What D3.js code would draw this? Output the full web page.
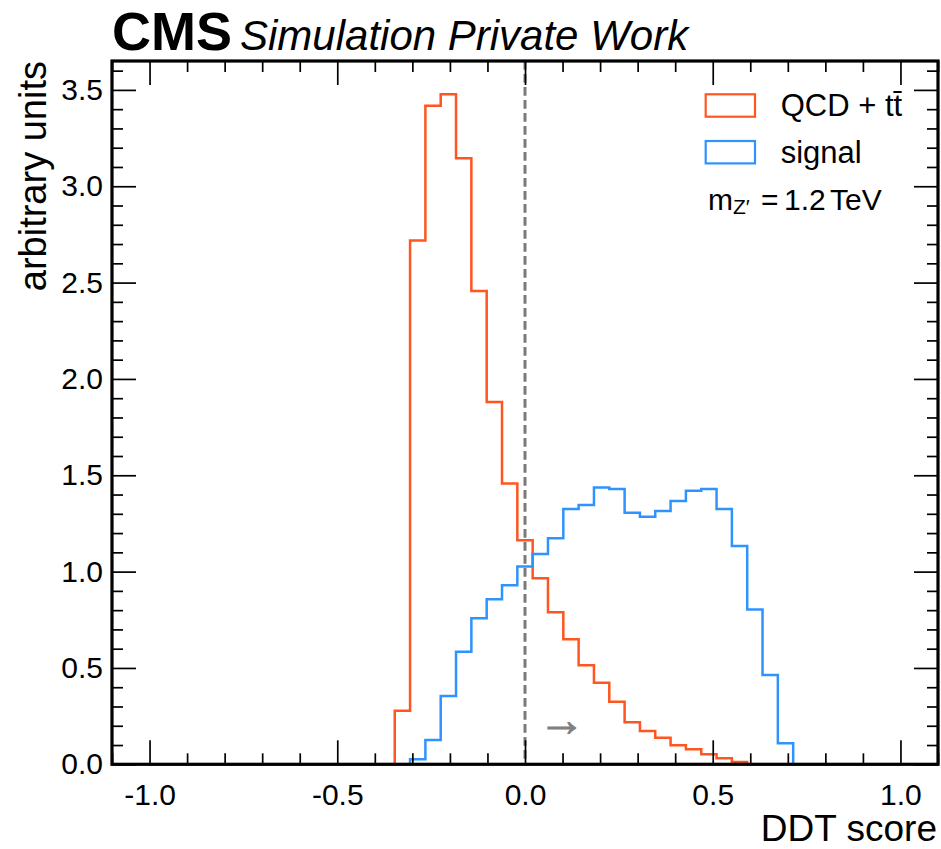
<html>
  <head>
    <meta charset="utf-8">
    <title>DDT score</title>
    <style>
      body { margin: 0; background: #fff; }
      svg text { font-family: "Liberation Sans", Arial, sans-serif; fill: #000; }
    </style>
  </head>
  <body>
    <div id="vis"></div>
    <script src="https://d3js.org/d3.v7.min.js"></script>
    <script>
      // binning: 49 equal bins between -1 and 1
      const binLo = -1, binHi = 1, nBins = 49

      // normalised histograms (arbitrary units), one value per bin
      const qcdValues = [
        0, 0, 0, 0, 0, 0, 0, 0, 0, 0, 0, 0, 0, 0, 0, 0,
        0.278, 2.719, 3.418, 3.478, 3.145, 2.456, 1.880, 1.457, 1.163, 0.965,
        0.789, 0.649, 0.514, 0.423, 0.325, 0.218, 0.173, 0.138, 0.099, 0.078,
        0.052, 0.031, 0.012,
        0, 0, 0, 0, 0, 0, 0, 0, 0, 0
      ]
      const signalValues = [
        0, 0, 0, 0, 0, 0, 0, 0, 0, 0, 0, 0, 0, 0, 0, 0, 0,
        0.026, 0.126, 0.354, 0.584, 0.758, 0.856, 0.929, 1.026, 1.092, 1.173,
        1.325, 1.346, 1.437, 1.429, 1.306, 1.285, 1.314, 1.366, 1.420, 1.429,
        1.325, 1.133, 0.804, 0.463, 0.109,
        0, 0, 0, 0, 0, 0, 0
      ]

      const xMajor = [-1.0, -0.5, 0.0, 0.5, 1.0]
      const yMajor = [0.0, 0.5, 1.0, 1.5, 2.0, 2.5, 3.0, 3.5]
      const cutValue = 0.0

      const W = 941, H = 849
      const pLeft = 112, pRight = 938, pTop = 61, pBottom = 764.3
      const majorLen = 24, minorLen = 11
      const qcdColor = '#ff5520', sigColor = '#2f93ff'

      const x = d3.scaleLinear().domain([-1.1, 1.1]).range([pLeft, pRight])
      const y = d3.scaleLinear().domain([0, 3.65]).range([pBottom, pTop])

      const xMinor = d3.range(-11, 12).map(i => i / 10).filter(v => !xMajor.some(m => Math.abs(m - v) < 1e-9))
      const yMinor = d3.range(0, 37).map(i => i / 10).filter(v => !yMajor.some(m => Math.abs(m - v) < 1e-9))

      const svg = d3.select('#vis').append('svg').attr('width', W).attr('height', H)

      const edges = d3.range(nBins + 1).map(i => binLo + (binHi - binLo) * i / nBins)

      // step outline like a matplotlib 'step' histogram
      function stepPath(vals) {
        const pts = [[edges[0], 0]]
        vals.forEach((v, i) => { pts.push([edges[i], v]); pts.push([edges[i + 1], v]) })
        pts.push([edges[nBins], 0])
        return d3.line().x(d => x(d[0])).y(d => y(d[1]))(pts)
      }

      const plot = svg.append('g')
      plot.append('path').attr('d', stepPath(qcdValues))
        .attr('fill', 'none').attr('stroke', qcdColor).attr('stroke-width', 2.5)
      plot.append('path').attr('d', stepPath(signalValues))
        .attr('fill', 'none').attr('stroke', sigColor).attr('stroke-width', 2.5)

      // cut line and direction arrow
      plot.append('line')
        .attr('x1', x(cutValue)).attr('x2', x(cutValue))
        .attr('y1', pTop).attr('y2', pBottom)
        .attr('stroke', '#7a7a7a').attr('stroke-width', 3)
        .attr('stroke-dasharray', '8.7,4.3')
      plot.append('text')
        .attr('x', x(cutValue) + 13).attr('y', 736)
        .style('font-family', '"Liberation Sans", "DejaVu Sans", sans-serif')
        .style('font-size', '47px').style('fill', '#808080')
        .style('stroke', '#808080').style('stroke-width', 0.9)
        .text('→')

      // ticks on all four sides, pointing inwards
      function addAxis(axis, tr, labels) {
        const g = svg.append('g').attr('transform', tr).call(axis)
        g.select('.domain').remove()
        g.selectAll('.tick line').attr('stroke', '#000').attr('stroke-width', 1.7)
        g.selectAll('text').style('font-size', '30px').style('font-family', '"Liberation Sans", Arial, sans-serif')
        if (!labels) g.selectAll('text').remove()
        return g
      }
      const fmt = d => d3.format('.1f')(d).replace('\u2212', '-')
      const bottomTr = `translate(0,${pBottom})`, topTr = `translate(0,${pTop})`
      const leftTr = `translate(${pLeft},0)`, rightTr = `translate(${pRight},0)`

      addAxis(d3.axisBottom(x).tickValues(xMajor).tickSize(-majorLen).tickPadding(19).tickFormat(fmt), bottomTr, true)
      addAxis(d3.axisBottom(x).tickValues(xMinor).tickSize(-minorLen), bottomTr, false)
      addAxis(d3.axisTop(x).tickValues(xMajor).tickSize(-majorLen), topTr, false)
      addAxis(d3.axisTop(x).tickValues(xMinor).tickSize(-minorLen), topTr, false)
      addAxis(d3.axisLeft(y).tickValues(yMajor).tickSize(-majorLen).tickPadding(9).tickFormat(fmt), leftTr, true)
      addAxis(d3.axisLeft(y).tickValues(yMinor).tickSize(-minorLen), leftTr, false)
      addAxis(d3.axisRight(y).tickValues(yMajor).tickSize(-majorLen), rightTr, false)
      addAxis(d3.axisRight(y).tickValues(yMinor).tickSize(-minorLen), rightTr, false)

      // frame
      svg.append('rect')
        .attr('x', pLeft).attr('y', pTop)
        .attr('width', pRight - pLeft).attr('height', pBottom - pTop)
        .attr('fill', 'none').attr('stroke', '#000').attr('stroke-width', 3.2)

      // axis titles
      svg.append('text')
        .attr('x', pRight - 1).attr('y', 841)
        .attr('text-anchor', 'end')
        .style('font-size', '37px')
        .text('DDT score')
      svg.append('text')
        .attr('transform', `translate(46,${pTop}) rotate(-90)`)
        .attr('text-anchor', 'end')
        .style('font-size', '38px')
        .text('arbitrary units')

      // experiment label
      const lab = svg.append('text').attr('x', pLeft).attr('y', 50)
      lab.append('tspan').style('font-weight', 'bold').style('font-size', '54px').text('CMS')
      lab.append('tspan').attr('dx', 8).style('font-style', 'italic').style('font-size', '42px')
        .text('Simulation Private Work')

      // legend
      const legend = [
        { label: 'QCD + tt\u0304', color: qcdColor },
        { label: 'signal', color: sigColor }
      ]
      const lg = svg.append('g')
      legend.forEach((d, i) => {
        lg.append('rect')
          .attr('x', 705.7).attr('y', 94.3 + i * 46.7)
          .attr('width', 49.3).attr('height', 22.4)
          .attr('fill', 'none').attr('stroke', d.color).attr('stroke-width', 2.2)
        lg.append('text')
          .attr('x', 780.7).attr('y', 116 + i * 47)
          .style('font-size', '31px')
          .text(d.label)
      })

      const mass = svg.append('text').attr('x', 708).attr('y', 210).style('font-size', '30px')
      mass.append('tspan').text('m')
      mass.append('tspan').attr('dy', 4).style('font-size', '21px').text('Z′')
      mass.append('tspan').attr('x', 761).attr('dy', -4).text('=')
      mass.append('tspan').attr('x', 784).text('1.2')
      mass.append('tspan').attr('x', 830).text('TeV')
    </script>
  </body>
</html>
